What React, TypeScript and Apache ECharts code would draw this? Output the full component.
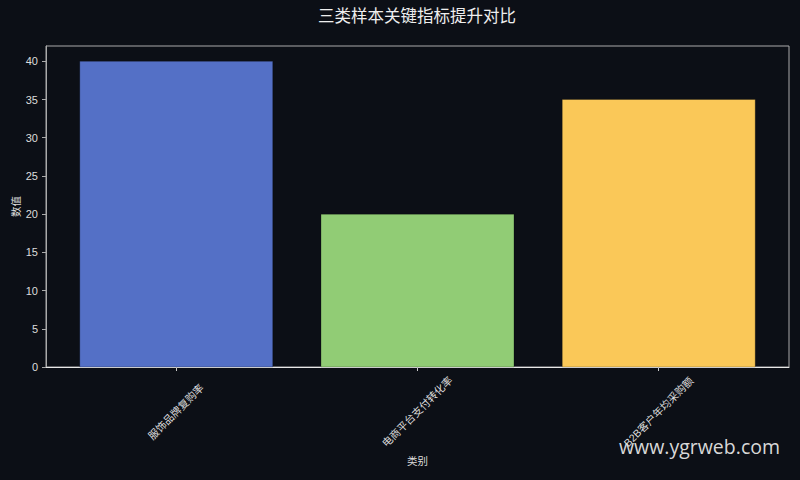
import React, { useEffect, useRef } from "react";
import * as echarts from "echarts";

const TITLE = "三类样本关键指标提升对比";
const CATEGORIES = ["服饰品牌复购率", "电商平台支付转化率", "B2B客户年均采购额"];
const VALUES = [40, 20, 35];
const BAR_COLORS = ["#5470c6", "#91cc75", "#fac858"];
const Y_TICKS = [0, 5, 10, 15, 20, 25, 30, 35, 40];
const X_TICKS = [0, 1, 2];
const X_NAME = "类别";
const Y_NAME = "数值";
const WATERMARK = "www.ygrweb.com";

const FONT = "'Liberation Sans', 'Noto Sans CJK SC', sans-serif";
const BG = "#0c0f16";

export default function App() {
  const ref = useRef<HTMLDivElement>(null);
  useEffect(() => {
    if (!ref.current) return;
    const chart = echarts.init(ref.current, undefined, { renderer: "svg" });
    chart.setOption({
      animation: false,
      backgroundColor: BG,
      textStyle: { fontFamily: FONT },
      title: {
        text: TITLE,
        left: 318,
        top: 8,
        padding: 0,
        textStyle: { color: "#eeeeee", fontSize: 16.5, fontWeight: "normal", fontFamily: FONT },
      },
      grid: {
        left: 46,
        right: 11,
        top: 46,
        bottom: 113,
        show: true,
        borderColor: "#aaaaaa",
        borderWidth: 1,
        backgroundColor: "transparent",
        outerBoundsMode: "none",
        containLabel: false,
      },
      xAxis: {
        type: "value",
        min: -0.54,
        max: 2.54,
        name: X_NAME,
        nameLocation: "middle",
        nameGap: 89,
        nameMoveOverlap: false,
        nameTextStyle: { color: "#dddddd", fontSize: 10.5, fontFamily: FONT, verticalAlign: "top" },
        splitLine: { show: false },
        axisLine: { show: true, onZero: false, lineStyle: { color: "#e8e8e8", width: 1 } },
        axisTick: { show: true, length: 4, customValues: X_TICKS, lineStyle: { color: "#cccccc" } },
        axisLabel: {
          customValues: X_TICKS,
          rotate: 45,
          align: "center",
          margin: 45,
          color: "#dddddd",
          fontSize: 10.5,
          fontFamily: FONT,
          formatter: (v: number) => CATEGORIES[Math.round(v)],
        },
      },
      yAxis: {
        type: "value",
        min: 0,
        max: 42,
        name: Y_NAME,
        nameLocation: "middle",
        nameGap: 25,
        nameMoveOverlap: false,
        nameTextStyle: { color: "#dddddd", fontSize: 10.5, fontFamily: FONT },
        splitLine: { show: false },
        axisLine: { show: true, onZero: false, lineStyle: { color: "#aaaaaa", width: 1 } },
        axisTick: { show: true, length: 4, customValues: Y_TICKS, lineStyle: { color: "#aaaaaa" } },
        axisLabel: {
          customValues: Y_TICKS,
          color: "#dddddd",
          fontSize: 11,
          fontFamily: FONT,
          margin: 8,
        },
      },
      series: [
        {
          type: "custom",
          data: VALUES.map((v, i) => [i, v]),
          encode: { x: 0, y: 1 },
          renderItem: (params: any, api: any) => {
            const x = api.value(0);
            const y = api.value(1);
            const p0 = api.coord([x - 0.4, y]);
            const p1 = api.coord([x + 0.4, 0]);
            return {
              type: "rect",
              shape: { x: p0[0], y: p0[1], width: p1[0] - p0[0], height: p1[1] - p0[1] },
              style: {
                fill: BAR_COLORS[params.dataIndex],
                stroke: "rgba(0,0,0,0.25)",
                lineWidth: 1,
              },
            };
          },
        },
      ],
      graphic: [
        {
          type: "text",
          right: 20,
          top: 436,
          style: {
            text: WATERMARK,
            fill: "#d8d8d8",
            fontSize: 19.5,
            fontFamily: "'Open Sans', sans-serif",
          },
        },
      ],
    });
    return () => chart.dispose();
  }, []);
  return (
    <div
      ref={ref}
      style={{ position: "absolute", left: 0, top: 0, width: 800, height: 480 }}
    />
  );
}
